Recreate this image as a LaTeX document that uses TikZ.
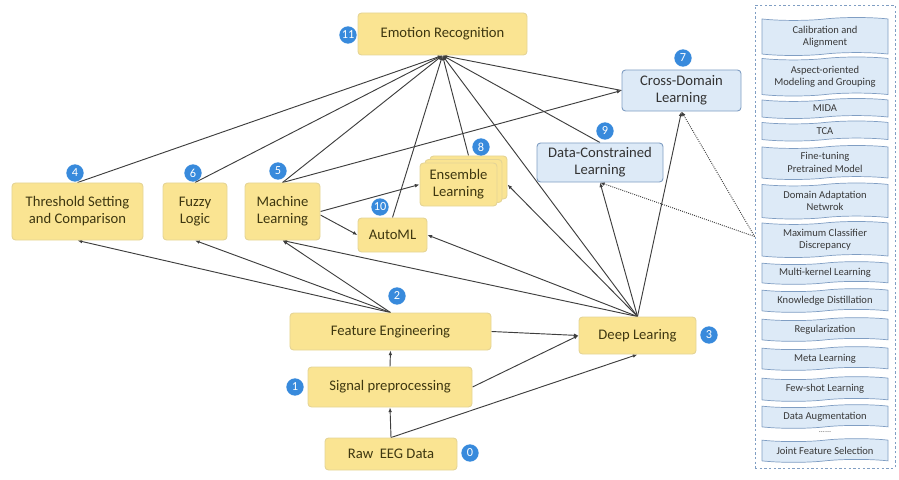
\documentclass[tikz,border=0pt]{standalone}
\usepackage{fontspec}
\setmainfont{Carlito}
\usepackage{tikz}
\usetikzlibrary{arrows.meta, shapes.symbols}
\definecolor{boxYellow}{RGB}{250,228,146}
\definecolor{edgeYellow}{RGB}{228,212,150}
\definecolor{txtYellow}{RGB}{62,55,16}
\definecolor{boxBlue}{RGB}{221,234,247}
\definecolor{edgeBlue}{RGB}{128,158,195}
\definecolor{badgeBlue}{RGB}{56,138,220}
\definecolor{lineGray}{RGB}{62,62,62}
\pgfdeclarelayer{background}
\pgfsetlayers{background,main}

\begin{document}
\begin{tikzpicture}[x=0.03cm, y=-0.03cm]

    \useasboundingbox (0,0) rectangle (899,480);

    % Boxes
    \tikzset{yB/.style={draw=edgeYellow, fill=boxYellow, rounded corners=3pt, line width=0.8pt, text=txtYellow, align=center, inner sep=1pt, font=\fontsize{12.5}{14.5}\selectfont}}
    \tikzset{bB/.style={yB, draw=edgeBlue, fill=boxBlue, text=black!80}}
    \tikzset{tB/.style={tape, tape bend height=2.5pt, draw=edgeBlue, fill=boxBlue, line width=0.6pt, minimum width=3.78cm, text=black!78, align=center, inner sep=1pt, font=\fontsize{9}{10.5}\selectfont}}

    % Number badges
    \tikzset{nB/.style={circle, fill=badgeBlue, text=white, inner sep=0pt, minimum size=0.52cm, font=\fontsize{10.5}{11}\selectfont}}

    % Connectors
    \tikzset{ar/.style={-{Latex[length=4pt, width=3.2pt]}, draw=lineGray, line width=0.8pt}}
    \tikzset{dar/.style={ar, densely dotted}}

    % Upper nodes
    \node (emo) [yB, minimum width=5.07cm, minimum height=1.26cm] at (442.5, 34) {Emotion Recognition};
    \node (cdl) [bB, minimum width=3.57cm, minimum height=1.23cm] at (681.5, 90.5) {Cross-Domain\\Learning};
    \node (dcl) [bB, minimum width=3.78cm, minimum height=1.17cm] at (600, 162.5) {Data-Constrained\\Learning};
    \node (ensC) [yB, minimum width=2.31cm, minimum height=1.29cm] at (468.5, 177.5) {};
    \node (ensB) [yB, minimum width=2.31cm, minimum height=1.29cm] at (463.5, 181) {};
    \node (ensA) [yB, minimum width=2.31cm, minimum height=1.29cm] at (458.5, 184.5) {Ensemble\\Learning};
    \node (aml) [yB, minimum width=2.07cm, minimum height=1.02cm] at (392.5, 235) {AutoML};

    % Middle row
    \node (thr) [yB, minimum width=3.93cm, minimum height=1.71cm] at (77.5, 211.5) {Threshold Setting\\and Comparison};
    \node (fz) [yB, minimum width=1.92cm, minimum height=1.71cm] at (195, 211.5) {Fuzzy\\Logic};
    \node (ml) [yB, minimum width=2.25cm, minimum height=1.71cm] at (282.5, 211.5) {Machine\\Learning};

    % Lower nodes
    \node (fe) [yB, minimum width=6.03cm, minimum height=1.11cm] at (390.5, 331.5) {Feature Engineering};
    \node (sp) [yB, minimum width=4.92cm, minimum height=1.2cm] at (390, 387) {Signal preprocessing};
    \node (raw) [yB, minimum width=3.96cm, minimum height=0.96cm] at (391, 454) {Raw\ \ EEG Data};
    \node (dl) [yB, minimum width=3.51cm, minimum height=1.11cm] at (637.5, 335.5) {Deep Learing};

    % Badges
    \node (b0) [nB] at (470, 453) {0};
    \node (b1) [nB] at (295, 387) {1};
    \node (b2) [nB] at (397, 296) {2};
    \node (b3) [nB] at (709, 335) {3};
    \node (b4) [nB] at (75, 173) {4};
    \node (b5) [nB] at (278, 171) {5};
    \node (b6) [nB] at (193, 173) {6};
    \node (b7) [nB] at (683, 58) {7};
    \node (b8) [nB] at (481, 147) {8};
    \node (b9) [nB] at (605, 131) {9};
    \node (b10) [nB] at (380, 207) {10};
    \node (b11) [nB] at (348, 35) {11};

    % Method panel
    \node (panel) [draw=edgeBlue, dash pattern=on 2pt off 2pt, line width=0.7pt, minimum width=4.2cm, minimum height=13.89cm] at (825, 236.5) {};
    \node (m1) [tB, minimum height=1.14cm] at (825, 36.5) {Calibration and\\Alignment};
    \node (m2) [tB, minimum height=1.17cm] at (825, 76.5) {Aspect-oriented\\Modeling and Grouping};
    \node (m3) [tB, minimum height=0.6cm] at (825, 108.5) {MIDA};
    \node (m4) [tB, minimum height=0.6cm] at (825, 131) {TCA};
    \node (m5) [tB, minimum height=1.02cm] at (825, 162.5) {Fine-tuning\\Pretrained Model};
    \node (m6) [tB, minimum height=1.08cm] at (825, 201) {Domain Adaptation\\Netwrok};
    \node (m7) [tB, minimum height=1.08cm] at (825, 239.5) {Maximum Classifier\\Discrepancy};
    \node (m8) [tB, minimum height=0.68cm] at (825, 273) {Multi-kernel Learning};
    \node (m9) [tB, minimum height=0.71cm] at (825, 300.5) {Knowledge Distillation};
    \node (m10) [tB, minimum height=0.71cm] at (825, 329.5) {Regularization};
    \node (m11) [tB, minimum height=0.71cm] at (825, 358.5) {Meta Learning};
    \node (m12) [tB, minimum height=0.74cm] at (825, 389) {Few-shot Learning};
    \node (m13) [tB, minimum height=0.71cm] at (825, 416.5) {Data Augmentation};
    \node (dots) [text=black!60, inner sep=0pt, font=\fontsize{7}{7}\selectfont] at (825, 432) {......};
    \node (m14) [tB, minimum height=0.71cm] at (825, 450.5) {Joint Feature Selection};

    % Connectors behind the boxes
    \begin{pgfonlayer}{background}

    	% Into emotion recognition
    	\draw[ar] (thr.north) -- (emo.south);
    	\draw[ar] (fz.north) -- (emo.south);
    	\draw[ar] (ml.north) -- (emo.south);
    	\draw[ar] (aml.north) -- (emo.south);
    	\draw[ar] (ensC.north) -- (emo.south);
    	\draw[ar] (dl.north) -- (emo.south);
    	\draw[ar] (dcl.north) -- (emo.south);
    	\draw[ar] (cdl.west) -- (emo.south);

    	% Machine learning
    	\draw[ar] (ml.north) -- (cdl.west);
    	\draw[ar] (ml.east) -- (ensA.west);
    	\draw[ar] ([yshift=-3pt]ml.east) -- (aml.west);

    	% Feature engineering
    	\draw[ar] (fe.north) -- (thr.south);
    	\draw[ar] (fe.north) -- (fz.south);
    	\draw[ar] (fe.north) -- (ml.south);
    	\draw[ar] (fe.east) -- (dl.west);

    	% Deep learning
    	\draw[ar] (dl.north) -- (ml.south);
    	\draw[ar] (dl.north) -- (aml.east);
    	\draw[ar] (dl.north) -- ([yshift=-6pt]ensC.east);
    	\draw[ar] (dl.north) -- (dcl.south);
    	\draw[ar] (dl.north) -- (cdl.south);

    	% Raw data and preprocessing
    	\draw[ar] (raw.north) -- (sp.south);
    	\draw[ar] (raw.north) -- (dl.south);
    	\draw[ar] (sp.north) -- (fe.south);
    	\draw[ar] (sp.east) -- (dl.west);

    	% Method panel
    	\draw[dar] (panel.west) -- (dcl.south);
    	\draw[dar] (panel.west) -- (cdl.south);

    \end{pgfonlayer}

\end{tikzpicture}
\end{document}
